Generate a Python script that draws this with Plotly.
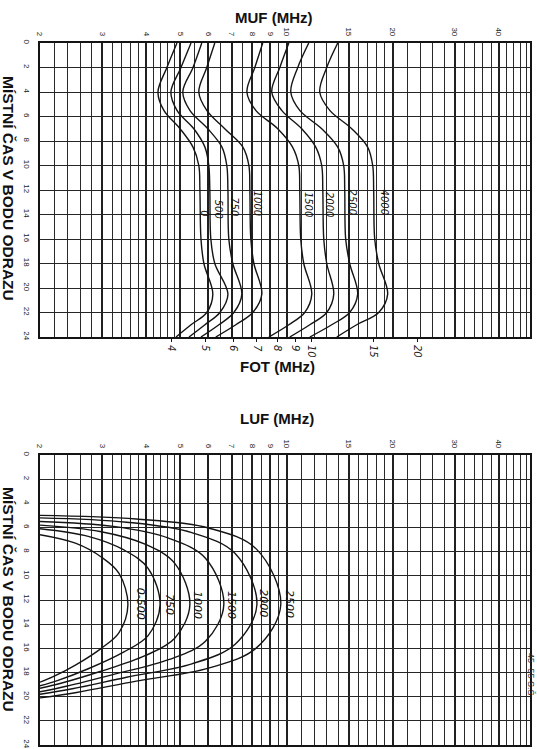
import math
import plotly.graph_objects as go

# ---------------- data ----------------
# MUF curves: frequency (MHz) vs local time (h), one per hop distance (km)
muf_hours = [0, 2, 4, 5.5, 7, 8.5, 10, 12, 16, 18, 20.5, 22, 23, 24]
muf_0 = [4.89, 4.58, 4.32, 4.49, 4.99, 5.43, 5.64, 5.68, 5.72, 5.83, 6.18, 5.94, 5.36, 4.86]
muf_500 = [5.36, 5.02, 4.70, 4.89, 5.46, 5.87, 6.02, 6.06, 6.10, 6.26, 6.82, 6.47, 5.87, 5.29]
muf_750 = [5.75, 5.43, 5.08, 5.32, 5.98, 6.56, 6.77, 6.82, 6.86, 7.04, 7.47, 7.09, 6.43, 5.72]
muf_1000 = [6.26, 5.94, 5.64, 5.94, 6.68, 7.52, 7.82, 7.87, 7.92, 8.08, 8.51, 8.02, 7.18, 6.30]
muf_1500 = [8.56, 8.13, 7.72, 8.18, 9.44, 10.4, 10.83, 10.90, 10.97, 11.19, 11.79, 11.26, 10.15, 8.91]
muf_2000 = [10.15, 9.57, 9.08, 9.69, 11.04, 12.10, 12.58, 12.67, 12.75, 13.0, 13.61, 13.0, 11.64, 10.21]
muf_2500 = [11.56, 10.76, 10.28, 10.90, 12.58, 13.97, 14.52, 14.62, 14.71, 15.10, 15.91, 15.10, 13.43, 11.64]
muf_4000 = [13.97, 13.0, 12.42, 13.26, 15.30, 16.98, 17.55, 17.66, 17.78, 18.25, 19.35, 18.25, 15.81, 13.88]
muf_names = ["0", "500", "750", "1000", "1500", "2000", "2500", "4000"]
muf_label_freq = [5.87, 6.39, 7.14, 8.29, 11.49, 13.26, 15.40, 18.98]
muf_label_hour = [13.9, 13.6, 13.4, 13.1, 13.2, 13.2, 13.0, 13.0]

# LUF curves: (frequency, hour) pairs
luf_names = ["0-500", "750", "1000", "1500", "2000", "2500"]
luf_0_500_f = [2, 2.52, 2.99, 3.35, 3.55, 3.35, 2.99, 2.52, 2.18, 2]
luf_0_500_h = [6.6, 7.30, 8.46, 9.79, 12.4, 14.70, 15.98, 17.39, 18.35, 18.8]
luf_750_f = [2, 2.74, 3.46, 4.05, 4.38, 4.05, 3.46, 2.74, 2.25, 2]
luf_750_h = [6.1, 6.73, 7.86, 9.38, 12.4, 14.95, 16.29, 17.69, 18.65, 19.1]
luf_1000_f = [2, 2.96, 3.97, 4.82, 5.32, 4.82, 3.97, 2.96, 2.32, 2]
luf_1000_h = [5.8, 6.33, 7.38, 8.97, 12.4, 15.16, 16.61, 17.92, 18.85, 19.3]
luf_1500_f = [2, 3.23, 4.63, 5.89, 6.64, 5.89, 4.63, 3.23, 2.39, 2]
luf_1500_h = [5.5, 5.91, 6.88, 8.54, 12.4, 15.42, 16.94, 18.16, 19.12, 19.6]
luf_2000_f = [2, 3.52, 5.39, 7.15, 8.24, 7.15, 5.39, 3.52, 2.47, 2]
luf_2000_h = [5.2, 5.56, 6.42, 8.15, 12.4, 15.66, 17.28, 18.39, 19.35, 19.8]
luf_2500_f = [2, 3.75, 6.01, 8.23, 9.63, 8.23, 6.01, 3.75, 2.54, 2]
luf_2500_h = [5.0, 5.30, 6.04, 7.81, 12.4, 15.94, 17.64, 18.71, 19.65, 20.1]
luf_label_freq = [3.84, 4.64, 5.57, 6.95, 8.62, 10.21]
luf_label_hour = [12.3, 12.4, 12.4, 12.4, 12.25, 12.3]

# axes / grid
freq_min, freq_max = 2, 49
freq_major = [2, 3, 4, 5, 6, 7, 8, 9, 10, 15, 20, 30, 40]
freq_major_text = ["2", "3", "4", "5", "6", "7", "8", "9", "10", "15", "20", "30", "40"]
freq_minor = [2.2, 2.4, 2.6, 2.8, 3.2, 3.4, 3.6, 3.8, 4.2, 4.4, 4.6, 4.8,
              5.5, 6.5, 7.5, 8.5, 9.5, 11, 12, 13, 14, 16, 17, 18, 19,
              22, 24, 26, 28, 32, 34, 36, 38, 42, 44, 46, 48]
fot_ticks = [4, 5, 6, 7, 8, 9, 10, 15, 20]
fot_factor = 0.85
hour_ticks = [0, 2, 4, 6, 8, 10, 12, 14, 16, 18, 20, 22, 24]

# ---------------- figure ----------------
W, H = 537, 749
LINE = "#141414"
GRID = "#202020"
FONT = "Liberation Sans"
CURVE_FONT = "DejaVu Sans"


def px(x):
    return x / W


def py(y):
    return 1 - y / H


fig = go.Figure()

muf_series = [muf_0, muf_500, muf_750, muf_1000, muf_1500, muf_2000, muf_2500, muf_4000]
for name, vals in zip(muf_names, muf_series):
    fig.add_trace(go.Scatter(x=vals, y=muf_hours, mode="lines", name=name,
                             line=dict(color=LINE, width=1.4, shape="spline", smoothing=1.0),
                             xaxis="x", yaxis="y", showlegend=False, hoverinfo="skip"))

luf_series = [(luf_0_500_f, luf_0_500_h), (luf_750_f, luf_750_h), (luf_1000_f, luf_1000_h),
              (luf_1500_f, luf_1500_h), (luf_2000_f, luf_2000_h), (luf_2500_f, luf_2500_h)]
for name, (fv, hv) in zip(luf_names, luf_series):
    fig.add_trace(go.Scatter(x=fv, y=hv, mode="lines", name=name,
                             line=dict(color=LINE, width=1.4, shape="spline", smoothing=1.0),
                             xaxis="x2", yaxis="y2", showlegend=False, hoverinfo="skip"))

# empty trace that registers the FOT scale (overlaid on the MUF plot) so its axis is drawn
fig.add_trace(go.Scatter(x=fot_ticks, y=[None] * len(fot_ticks), mode="lines",
                         xaxis="x3", yaxis="y", showlegend=False, hoverinfo="skip"))

xdom = [px(40), px(530)]
top_dom = [py(337), py(43)]
bot_dom = [py(745), py(455)]
xrange_log = [math.log10(freq_min), math.log10(freq_max)]


def freq_axis(anchor):
    return dict(type="log", range=xrange_log, domain=xdom, anchor=anchor, side="top",
                automargin=False,
                tickmode="array", tickvals=freq_major, ticktext=freq_major_text,
                tickangle=90, tickfont=dict(size=8, color="#222", family=FONT),
                ticks="", ticklabelstandoff=2,
                showgrid=True, gridcolor=GRID, gridwidth=1.7,
                minor=dict(tickmode="array", tickvals=freq_minor, showgrid=True,
                           gridcolor="#2a2a2a", gridwidth=0.9, ticks=""),
                showline=True, linecolor=LINE, linewidth=1.8, mirror=True,
                zeroline=False, fixedrange=True)


def hour_axis(dom, anchor):
    return dict(domain=dom, range=[24, 0], anchor=anchor, automargin=False,
                tickmode="array", tickvals=hour_ticks, ticktext=[str(h) for h in hour_ticks],
                tickangle=90, tickfont=dict(size=8, color="#222", family=FONT),
                ticks="", ticklabelstandoff=4,
                showgrid=True, gridcolor="#262626", gridwidth=1.3,
                showline=True, linecolor=LINE, linewidth=1.8, mirror=True,
                zeroline=False, fixedrange=True)


fot_range = [math.log10(freq_min * fot_factor), math.log10(freq_max * fot_factor)]

fig.update_layout(
    width=W, height=H, autosize=False,
    margin=dict(l=0, r=0, t=0, b=0, pad=0),
    paper_bgcolor="white", plot_bgcolor="white",
    xaxis=freq_axis("y"),
    yaxis=hour_axis(top_dom, "x"),
    xaxis2=freq_axis("y2"),
    yaxis2=hour_axis(bot_dom, "x2"),
    xaxis3=dict(type="log", range=fot_range, overlaying="x", anchor="y", side="bottom",
                automargin=False,
                tickmode="array", tickvals=fot_ticks, ticktext=[str(v) for v in fot_ticks],
                tickangle=90, tickfont=dict(size=10, color="#222", family=CURVE_FONT, style="italic"),
                ticks="outside", ticklen=4, tickcolor=LINE, tickwidth=1, ticklabelstandoff=1,
                showgrid=False, showline=False, zeroline=False, fixedrange=True),
    showlegend=False,
)

ann = []
# curve labels
for name, f, h in zip(muf_names, muf_label_freq, muf_label_hour):
    ann.append(dict(x=math.log10(f), y=h, xref="x", yref="y", text=name, showarrow=False,
                    textangle=90, xanchor="center", yanchor="middle",
                    font=dict(size=10, color="#111", family=CURVE_FONT, style="italic")))
for name, f, h in zip(luf_names, luf_label_freq, luf_label_hour):
    ann.append(dict(x=math.log10(f), y=h, xref="x2", yref="y2", text=name, showarrow=False,
                    textangle=90, xanchor="center", yanchor="middle",
                    font=dict(size=11, color="#111", family=CURVE_FONT, style="italic")))

title_font = dict(size=15, color="#111", family=FONT, weight="bold")
for text, xc, yc in (("MUF (MHz)", 273, 17), ("FOT (MHz)", 277, 366), ("LUF (MHz)", 277, 418)):
    ann.append(dict(x=px(xc), y=py(yc), xref="paper", yref="paper", text=text,
                    xanchor="center", yanchor="middle", showarrow=False, font=title_font))
ytitle_font = dict(size=15.5, color="#111", family=FONT, weight="bold")
for yc in (188, 599):
    ann.append(dict(x=px(9), y=py(yc), xref="paper", yref="paper", text="MÍSTNÍ ČAS V BODU ODRAZU",
                    xanchor="center", yanchor="middle",
                    showarrow=False, textangle=90, font=ytitle_font))
ann.append(dict(x=px(531), y=py(675), xref="paper", yref="paper", text="45 -55 S.Š.",
                xanchor="center", yanchor="middle",
                showarrow=False, textangle=90, font=dict(size=9, color="#333", family=FONT)))

fig.update_layout(annotations=ann)

# remove the browser's default 8px body margin so the figure fills the window exactly
fig.write_html("out.html", config={"displayModeBar": False},
               post_script="document.body.style.margin='0';")
